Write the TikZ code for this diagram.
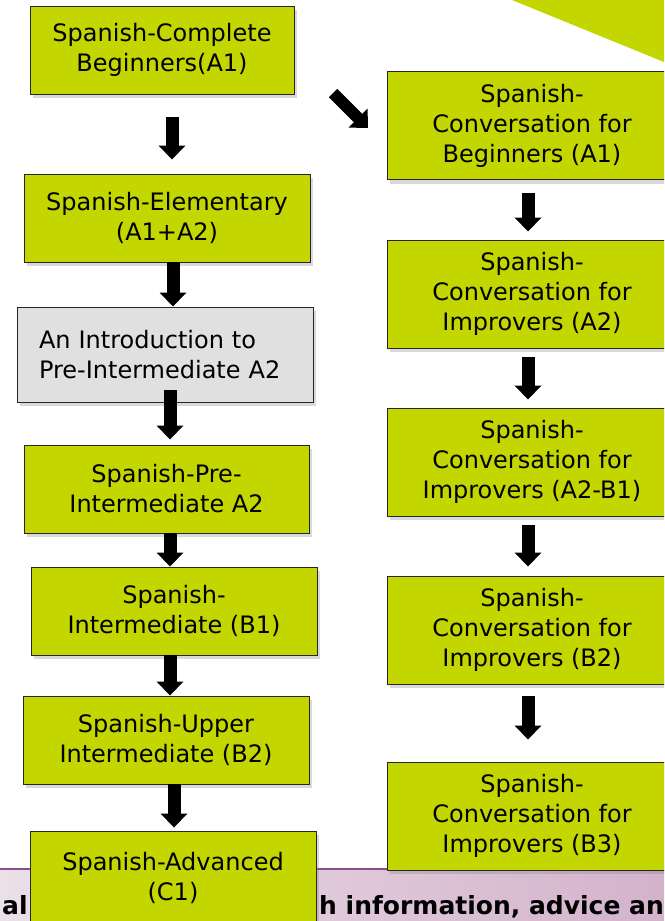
\documentclass[tikz,border=0pt]{standalone}
\usepackage{fontspec}
\setmainfont{DejaVu Sans}
\usetikzlibrary{arrows.meta,shadows}
\definecolor{lime}{HTML}{C4D600}
\definecolor{greybox}{HTML}{E0E0E0}
\definecolor{bandL}{HTML}{EAE0E8}
\definecolor{bandR}{HTML}{D4B2CC}
\definecolor{bandline}{HTML}{8E4C8B}
\begin{document}
\begin{tikzpicture}[x=1pt,y=-1pt,
  box/.style={draw=black!85, line width=0.9pt, fill=lime,
    drop shadow={opacity=0.3, shadow xshift=3pt, shadow yshift=-4pt},
    inner sep=0pt, align=center, font=\fontsize{24}{30}\selectfont},
  lbox/.style={box, minimum width=286pt, minimum height=88pt},
  rbox/.style={box, minimum width=290pt, minimum height=108pt},
  blk/.style={line width=13pt, -{Triangle[length=14pt,width=26pt]}, black},
  bandtext/.style={font=\fontsize{25}{30}\selectfont\bfseries, inner sep=0pt, anchor=base west}
]
\useasboundingbox (0,0) rectangle (664,921);
\clip (0,0) rectangle (664,921);
% background decorations
\fill[lime] (512,0) -- (664,0) -- (664,62) -- cycle;
\shade[left color=bandL, right color=bandR] (0,869) rectangle (664,921);
\draw[bandline, line width=2pt] (0,869) -- (664,869);
\node[bandtext] (t1) at (2,914) {al};
\node[bandtext] (t2) at (319,914) {h information, advice an};
% left column
\node[lbox, minimum width=264pt] (b1) at (162,50) {Spanish-Complete\\Beginners(A1)};
\node[lbox] (b2) at (167,218) {Spanish-Elementary\\(A1+A2)};
\node[box, fill=greybox, minimum width=296pt, minimum height=95pt, text width=252pt, inner xsep=22pt, align=left] (b3) at (165,354.5) {An Introduction to\\Pre-Intermediate A2};
\node[lbox, minimum width=285pt] (b4) at (166.5,489) {Spanish-Pre-\\Intermediate A2};
\node[lbox] (b5) at (174,611) {Spanish-\\Intermediate (B1)};
\node[lbox] (b6) at (166,740) {Spanish-Upper\\Intermediate (B2)};
\node[lbox, minimum height=94pt] (b7) at (173,878) {Spanish-Advanced\\(C1)};
% right column
\node[rbox] (r1) at (532,125.5) {Spanish-\\Conversation for\\Beginners (A1)};
\node[rbox] (r2) at (532,294) {Spanish-\\Conversation for\\Improvers (A2)};
\node[rbox] (r3) at (532,462) {Spanish-\\Conversation for\\Improvers (A2-B1)};
\node[rbox] (r4) at (532,630) {Spanish-\\Conversation for\\Improvers (B2)};
\node[rbox] (r5) at (532,816) {Spanish-\\Conversation for\\Improvers (B3)};
% arrows left
\draw[blk, shorten <=23pt, shorten >=14pt] ([xshift=10pt]b1.south) -- ([xshift=10pt]b1.south |- b2.north);
\draw[blk] ([xshift=6pt]b2.south) -- ([xshift=6pt]b2.south |- b3.north);
\draw[blk, shorten <=-12pt, shorten >=5pt] ([xshift=5pt]b3.south) -- ([xshift=5pt]b3.south |- b4.north);
\draw[blk] ([xshift=3.5pt]b4.south) -- ([xshift=3.5pt]b4.south |- b5.north);
\draw[blk] ([xshift=-4pt]b5.south) -- ([xshift=-4pt]b5.south |- b6.north);
\draw[blk, shorten >=3pt] ([xshift=8pt]b6.south) -- ([xshift=8pt]b6.south |- b7.north);
% arrows right
\draw[blk, shorten <=13pt, shorten >=8pt] ([xshift=-4pt]r1.south) -- ([xshift=-4pt]r2.north);
\draw[blk, shorten <=9pt, shorten >=8pt] ([xshift=-4pt]r2.south) -- ([xshift=-4pt]r3.north);
\draw[blk, shorten <=9pt, shorten >=9pt] ([xshift=-4pt]r3.south) -- ([xshift=-4pt]r4.north);
\draw[blk, shorten <=12pt, shorten >=22pt] ([xshift=-4pt]r4.south) -- ([xshift=-4pt]r5.north);
% diagonal
\coordinate (d1) at (333,93);
\coordinate (d2) at (368,128);
\draw[blk, line width=12pt] (d1) -- (d2);
\end{tikzpicture}
\end{document}
